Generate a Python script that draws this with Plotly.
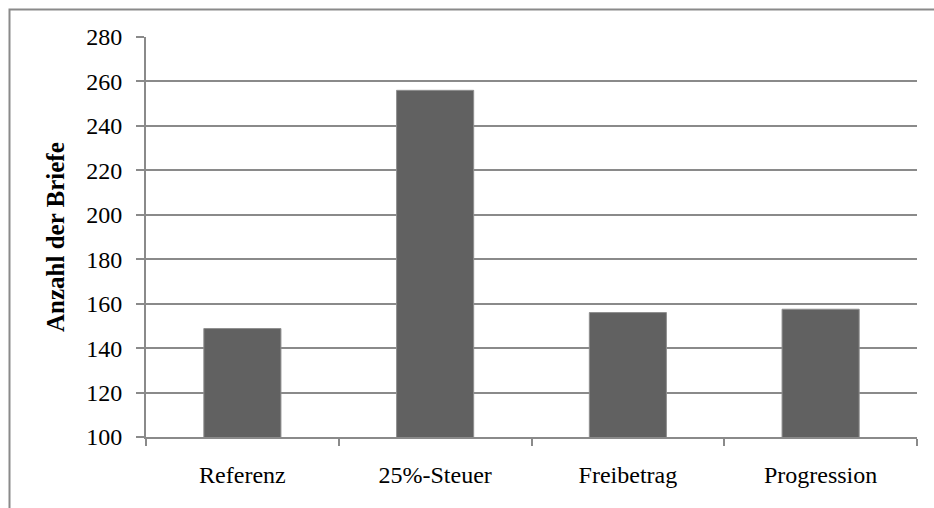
import plotly.graph_objects as go

# Letters per treatment group
categories = ["Referenz", "25%-Steuer", "Freibetrag", "Progression"]
letters = [148.8, 256.0, 156.0, 157.5]

y_ticks = [100, 120, 140, 160, 180, 200, 220, 240, 260, 280]

FONT = "Liberation Serif, Times New Roman, serif"
GRID = "#8a8a8a"

fig = go.Figure(
    go.Bar(
        x=categories,
        y=letters,
        width=0.4,
        marker=dict(color="#616161", line=dict(color="#8f8f8f", width=1)),
    )
)

fig.update_layout(
    width=934,
    height=508,
    margin=dict(l=146, r=17, t=37, b=71),
    paper_bgcolor="white",
    plot_bgcolor="white",
    showlegend=False,
    font=dict(family=FONT, size=24, color="black"),
    bargap=0.6,
)

fig.update_xaxes(
    type="category",
    range=[-0.5, 3.5],
    showline=True,
    linecolor=GRID,
    linewidth=2,
    ticks="outside",
    tickson="boundaries",
    ticklen=7,
    tickcolor=GRID,
    tickwidth=2,
    ticklabelstandoff=15,
    showgrid=False,
    tickfont=dict(family=FONT, size=24, color="black"),
)

fig.update_yaxes(
    range=[100, 280],
    tickvals=y_ticks,
    showline=True,
    linecolor=GRID,
    linewidth=2,
    ticks="outside",
    ticklen=8,
    tickcolor=GRID,
    tickwidth=2,
    ticklabelstandoff=9,
    showgrid=True,
    gridcolor=GRID,
    gridwidth=2,
    zeroline=False,
    tickfont=dict(family=FONT, size=24, color="black"),
)

# Vertical axis title
fig.add_annotation(
    text="<b>Anzahl der Briefe</b>",
    xref="paper",
    yref="paper",
    x=(55 - 146) / 771,
    y=0.5,
    xanchor="center",
    yanchor="middle",
    textangle=-90,
    showarrow=False,
    font=dict(family=FONT, size=25, color="black"),
)

# Outer chart frame (open at right and bottom edges of the page)
fig.add_shape(
    type="rect",
    xref="paper",
    yref="paper",
    x0=(9.5 - 146) / 771,
    x1=1.2,
    y0=-0.3,
    y1=1 + (37 - 9.5) / 400,
    line=dict(color=GRID, width=2),
    layer="below",
)

fig.write_html("out.html")
